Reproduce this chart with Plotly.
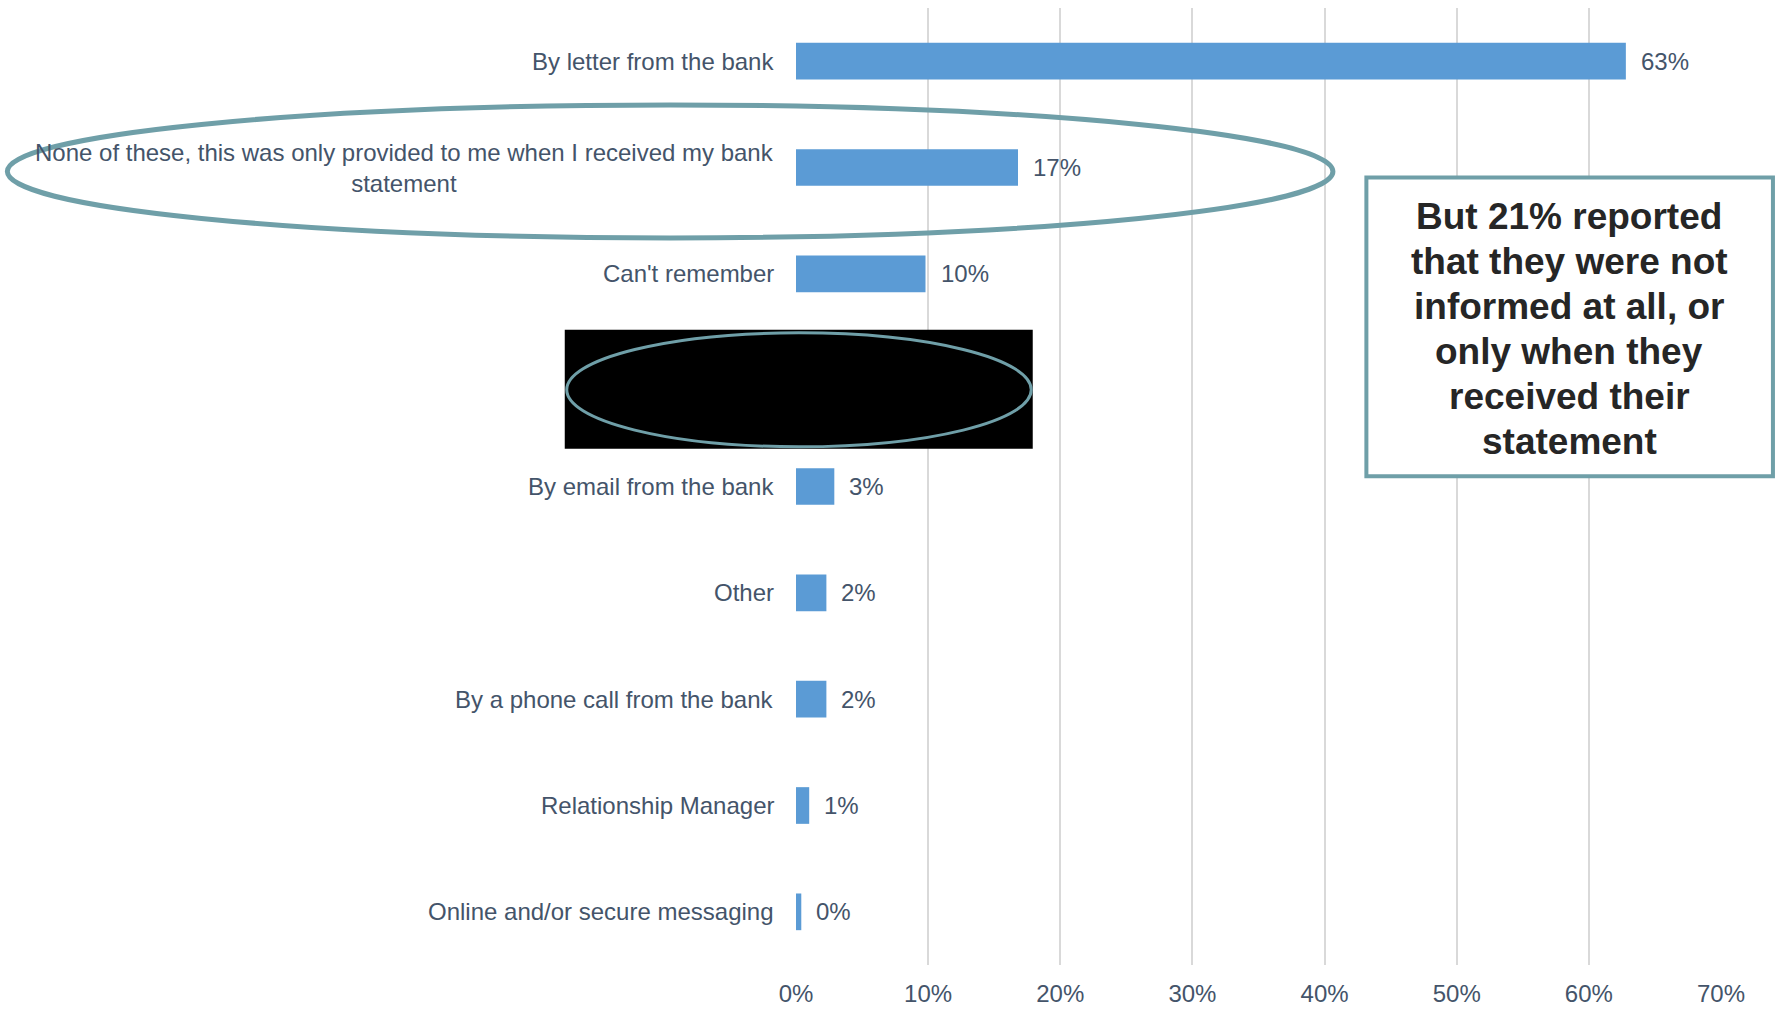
import plotly.graph_objects as go

# Survey responses: how customers were told about the change
categories = [
    "By letter from the bank",
    "None of these, this was only provided to me when I received my bank<br>statement",
    "Can't remember",
    " ",  # redacted row
    "By email from the bank",
    "Other",
    "By a phone call from the bank",
    "Relationship Manager",
    "Online and/or secure messaging",
]
# shares in percent (labels show them rounded to whole numbers)
shares = [62.8, 16.8, 9.8, None, 2.9, 2.3, 2.3, 1.0, 0.4]

x_ticks = [0, 10, 20, 30, 40, 50, 60, 70]
x_tick_labels = ["0%", "10%", "20%", "30%", "40%", "50%", "60%", "70%"]

callout_lines = [
    "But 21% reported",
    "that they were not",
    "informed at all, or",
    "only when they",
    "received their",
    "statement",
]

FONT = "Arial, 'Liberation Sans', sans-serif"
TEXT_COLOR = "#44546A"
BAR_COLOR = "#5B9BD5"
RING_COLOR = "#6F9FA8"

W, H = 1777, 1010
M_L, M_R, M_T, M_B = 795.5, 55.5, 8, 44.5
PLOT_W = W - M_L - M_R
PLOT_H = H - M_T - M_B


def px_x(x):
    return (x - M_L) / PLOT_W


def px_y(y):
    return (H - M_B - y) / PLOT_H


fig = go.Figure()
fig.add_trace(go.Bar(
    x=shares,
    y=categories,
    orientation="h",
    marker=dict(color=BAR_COLOR, line=dict(width=0)),
    hoverinfo="skip",
))

annotations = []
# category labels, centred per line and right-aligned to the axis
for cat, val in zip(categories, shares):
    if val is None:
        continue
    annotations.append(dict(
        x=0, y=cat, xref="x", yref="y",
        text=cat, showarrow=False,
        xanchor="right", yanchor="middle", align="center",
        xshift=-20,
        font=dict(family=FONT, size=24, color=TEXT_COLOR),
    ))
    annotations.append(dict(
        x=val, y=cat, xref="x", yref="y",
        text=f"{val:.0f}%", showarrow=False,
        xanchor="left", yanchor="middle",
        xshift=13,
        font=dict(family=FONT, size=24, color=TEXT_COLOR),
    ))

# callout text
line_centres = [216.5, 261.5, 306.5, 351.5, 396.5, 441.5]
for line, yc in zip(callout_lines, line_centres):
    annotations.append(dict(
        x=px_x(1569.7), y=px_y(yc), xref="paper", yref="paper",
        text=f"<b>{line}</b>", showarrow=False,
        xanchor="center", yanchor="middle",
        font=dict(family=FONT, size=37, color="#262626"),
    ))

shapes = [
    # ring round the "None of these" row
    dict(type="circle", xref="paper", yref="paper",
         x0=px_x(6), x1=px_x(1333), y0=px_y(238), y1=px_y(105),
         line=dict(color=RING_COLOR, width=5), layer="above"),
    # redacted block
    dict(type="rect", xref="paper", yref="paper",
         x0=px_x(564), x1=px_x(1032.5), y0=px_y(449), y1=px_y(330),
         fillcolor="black", line=dict(width=0), layer="above"),
    dict(type="circle", xref="paper", yref="paper",
         x0=px_x(566), x1=px_x(1031), y0=px_y(447), y1=px_y(333),
         line=dict(color=RING_COLOR, width=3), layer="above"),
    # callout box
    dict(type="rect", xref="paper", yref="paper",
         x0=px_x(1366.5), x1=px_x(1773.5), y0=px_y(476.5), y1=px_y(177.5),
         fillcolor="white", line=dict(color=RING_COLOR, width=4), layer="above"),
]

fig.update_layout(
    width=W, height=H,
    margin=dict(l=M_L, r=M_R, t=M_T, b=M_B, pad=0, autoexpand=False),
    paper_bgcolor="white", plot_bgcolor="white",
    showlegend=False,
    bargap=0.655,
    annotations=annotations,
    shapes=shapes,
    font=dict(family=FONT, size=24, color=TEXT_COLOR),
)
fig.update_xaxes(
    range=[0, 70],
    tickvals=x_ticks, ticktext=x_tick_labels,
    showgrid=True, gridcolor="#D9D9D9", gridwidth=1.5,
    zeroline=False, showline=False, ticks="",
    ticklabelstandoff=12,
    automargin=False,
    tickfont=dict(family=FONT, size=24, color=TEXT_COLOR),
    fixedrange=True,
)
fig.update_yaxes(
    type="category",
    categoryorder="array", categoryarray=categories,
    autorange="reversed",
    showticklabels=False, showgrid=False, zeroline=False, showline=False,
    ticks="",
    automargin=False,
    fixedrange=True,
)

fig.write_html("out.html", config={"displayModeBar": False})
